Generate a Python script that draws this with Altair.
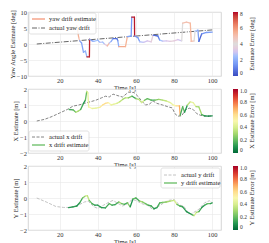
import altair as alt
import pandas as pd

FONT = "Liberation Serif"
W, H = 193, 64
XDOM = [3.4, 104.6]
XTICKS = [20, 40, 60, 80, 100]

# ---------------- yaw panel data ----------------
yaw_act_t = [8, 100]
yaw_act_v = [0.0, 4.4]

yaw_est_t = [29.0, 30.0, 30.5, 31.5, 32.5, 33.5, 34.3, 35.6, 35.7, 37.0, 38.0, 40.0, 41.0, 42.5, 43.5,
             45.0, 46.0, 47.0, 48.0, 50.0, 50.5, 51.0, 54.5, 55.5, 57.5, 57.8, 59.2, 59.3, 61.0, 62.0,
             64.0, 66.0, 68.0, 69.0, 71.5, 72.5, 74.0, 76.0, 78.0, 80.0, 82.0, 84.0, 84.5, 86.5, 88.5,
             89.0, 90.5, 91.0, 92.5, 93.0, 94.5, 97.0, 100.0]
yaw_est_v = [5.8, 2.0, 1.0, 0.3, -2.6, -2.2, -4.0, -4.0, 1.5, 1.0, 0.8, 1.2, 0.5, 0.6, 0.0,
             -0.6, 0.3, 0.8, 1.7, 1.7, 1.0, -0.8, -0.8, 2.3, 2.5, 8.4, 8.4, 2.5, 2.0, 0.7,
             0.5, 1.0, 0.7, 2.8, 2.5, 1.2, 0.9, 1.0, 0.8, 1.0, 1.4, 1.0, 6.5, 6.8, 6.5,
             0.8, 1.0, 4.0, 4.3, 0.8, 3.2, 3.6, 3.7]
yaw_est_e = [5.5, 5.0, 1.8, 1.8, 2.0, 2.2, 7.8, 7.8, 1.8, 1.8, 2.6, 2.2, 2.8, 2.6, 3.4,
             5.2, 2.8, 2.0, 0.6, 0.8, 2.0, 5.6, 5.4, 1.8, 1.5, 7.9, 7.9, 1.4, 1.6, 2.8,
             3.0, 3.2, 3.6, 0.6, 1.0, 2.6, 3.0, 3.2, 3.6, 3.4, 3.0, 4.0, 5.0, 5.0, 5.3,
             5.0, 4.0, 2.6, 1.6, 0.5, 1.4, 1.6, 1.5]

# ---------------- x panel data ----------------
x_act_t = [8, 12, 16, 20, 24, 27, 30, 33, 36, 39, 42, 44, 46, 48, 50, 53, 56, 59, 61, 63, 65, 67, 69,
           71, 74, 77, 79, 80.5, 82, 84, 86, 88, 90, 92, 94, 97, 100]
x_act_v = [0.0, 0.1, 0.28, 0.5, 0.72, 0.93, 1.0, 1.1, 1.2, 1.3, 1.45, 1.55, 1.5, 1.68, 1.6, 1.5, 1.8,
           1.78, 1.55, 1.25, 1.0, 1.05, 1.25, 1.1, 1.0, 0.88, 0.82, 0.45, 0.3, 0.33, 0.7, 0.8, 0.72,
           0.45, 0.35, 0.3, 0.32]

x_est_t = [25, 27, 28.5, 29.5, 31, 32.5, 33.5, 34.2, 34.8, 35.2, 37, 39, 41, 42.5, 44, 45.5, 47, 48.5,
           50, 51.5, 53, 54.5, 56, 58, 60, 61.5, 63, 64.5, 66, 68, 70, 72, 74, 76, 78, 79.5, 81, 82.8,
           83.2, 84.5, 85.5, 87, 88.5, 90, 91.5, 93, 94.5, 96, 98, 100]
x_est_v = [0.72, 0.7, 0.55, 0.6, 0.72, 1.1, 1.3, 1.85, 1.75, 0.88, 0.78, 0.8, 0.85, 1.0, 1.1, 1.15,
           1.0, 1.05, 1.1, 1.2, 1.35, 1.45, 1.45, 1.55, 1.4, 1.35, 1.15, 1.3, 1.4, 1.3, 1.3, 1.35, 1.3,
           1.25, 1.15, 1.0, 0.95, 0.95, 0.35, 0.9, 0.55, 1.0, 1.2, 1.15, 0.9, 0.88, 0.4, 0.32, 0.3, 0.32]
x_est_e = [0.15, 0.2, 0.35, 0.3, 0.15, 0.1, 0.2, 0.4, 0.45, 0.5, 0.45, 0.45, 0.55, 0.6, 0.6, 0.5, 0.45,
           0.45, 0.4, 0.35, 0.3, 0.35, 0.25, 0.15, 0.3, 0.35, 0.4, 0.2, 0.2, 0.15, 0.25, 0.3, 0.35, 0.4,
           0.45, 0.5, 0.6, 0.7, 0.15, 0.2, 0.1, 0.35, 0.45, 0.45, 0.3, 0.3, 0.15, 0.08, 0.08, 0.1]

# ---------------- y panel data ----------------
y_act_t = [8, 13, 18, 22, 25, 29, 33, 35, 38, 40, 43, 46, 48, 50, 53, 55, 58, 60, 63, 66, 69, 71, 74,
           77, 80, 83, 85, 87, 89, 91, 93, 96, 98.5, 100]
y_act_v = [0.0, -0.25, -0.53, -0.59, -0.59, -0.5, -0.25, -0.2, -0.55, -0.65, -0.45, -0.25, -0.15, -0.3,
           -0.5, -0.4, -0.1, -0.15, -0.35, -0.45, -0.73, -0.6, -0.35, -0.15, -0.1, -0.45, -0.5, -0.85,
           -1.0, -0.85, -0.7, -0.3, -0.17, -0.3]

y_est_t = [24.7, 27, 29, 30.5, 32, 33.5, 34.5, 35.5, 37, 38.5, 40, 42, 44, 46, 47.5, 49, 51, 52.5, 54,
           55.5, 57, 58.5, 60, 62, 63.5, 65, 66.5, 68, 69.5, 71, 72.5, 74, 76, 78, 80, 81.5, 83, 84.5,
           86.5, 88, 89.5, 90.5, 91.7, 93, 94.5, 96, 97.5, 99, 100]
y_est_v = [-0.6, -0.55, -0.5, -0.3, 0.0, 0.12, 0.15, -0.15, -0.35, -0.45, -0.45, -0.6, -0.62, -0.35,
           -0.45, -0.42, -0.25, -0.35, -0.4, -0.3, -0.55, -0.05, 0.0, -0.2, -0.25, -0.35, -0.45, -0.5,
           -0.67, -0.6, -0.3, -0.28, -0.25, -0.2, -0.15, -0.4, -0.5, -0.55, -0.85, -0.95, -1.05, -1.1,
           -0.9, -0.85, -0.6, -0.45, -0.35, -0.35, -0.3]
y_est_e = [0.1, 0.12, 0.1, 0.15, 0.25, 0.4, 0.35, 0.2, 0.15, 0.1, 0.12, 0.1, 0.15, 0.2, 0.12, 0.15, 0.3,
           0.2, 0.15, 0.25, 0.1, 0.2, 0.15, 0.3, 0.25, 0.2, 0.15, 0.15, 0.1, 0.15, 0.2, 0.25, 0.3, 0.35,
           0.4, 0.2, 0.15, 0.12, 0.08, 0.1, 0.2, 0.4, 0.3, 0.15, 0.1, 0.15, 0.2, 0.12, 0.1]

COOLWARM = ["#3b4cc0", "#6f92f3", "#aac7fd", "#dddcdc", "#f7b89c", "#e7745b", "#b40426"]
COOL_DOM = [0, 8 / 6, 16 / 6, 4, 32 / 6, 40 / 6, 8]


def segs(t, v, e):
    df = pd.DataFrame({"t": t, "v": v, "e": e})
    df["t2"] = df["t"].shift(-1)
    df["v2"] = df["v"].shift(-1)
    return df.dropna()


def one(label):
    return pd.DataFrame({"label": [label]})


def panel(act_t, act_v, est, ydom, yticks, ytitle, cscale, cvalues, clabel_expr, act_color, act_dash,
          legend_rows, box, est_color, cbar_title):
    xax = alt.Axis(values=XTICKS, title="Time [s]", labelOverlap=False)
    yax = alt.Axis(values=yticks, title=ytitle, labelOverlap=False, format="d")
    xsc = alt.Scale(domain=XDOM, nice=False, zero=False)
    ysc = alt.Scale(domain=ydom, nice=False, zero=False)
    act = alt.Chart(pd.DataFrame({"t": act_t, "v": act_v})).mark_line(
        color=act_color, strokeWidth=0.9, strokeDash=act_dash).encode(
        x=alt.X("t:Q", scale=xsc, axis=xax), y=alt.Y("v:Q", scale=ysc, axis=yax))
    estm = alt.Chart(est).mark_rule(strokeWidth=1.3, strokeCap="round").encode(
        x=alt.X("t:Q", scale=xsc, axis=xax), x2="t2:Q",
        y=alt.Y("v:Q", scale=ysc, axis=yax), y2="v2:Q",
        color=alt.Color("e:Q", scale=cscale, legend=alt.Legend(
            orient="none", legendX=W + 12, legendY=0, direction="vertical",
            gradientLength=H, gradientThickness=5, title=None, values=cvalues,
            labelExpr=clabel_expr, labelFontSize=5.5, labelFont=FONT, labelOffset=2,
            labelOverlap=False, gradientStrokeWidth=0, labelColor="#333333")))
    x1, x2, y1, y2 = box
    boxm = alt.Chart(one("box")).mark_rect(fill="white", fillOpacity=0.85, stroke="#cccccc",
                                           strokeWidth=0.6, cornerRadius=2).encode(
        x=alt.value(x1), x2=alt.value(x2), y=alt.value(y1), y2=alt.value(y2))
    layers = [act, estm, boxm]
    for (label, ypos, kind) in legend_rows:
        if kind == "act":
            sw = alt.Chart(one(label)).mark_rule(color=act_color, strokeWidth=0.9,
                                                 strokeDash=act_dash).encode(
                x=alt.value(x1 + 3), x2=alt.value(x1 + 16), y=alt.value(ypos))
        else:
            sw = alt.Chart(one(label)).mark_rule(color=est_color, strokeWidth=1.3).encode(
                x=alt.value(x1 + 3), x2=alt.value(x1 + 16), y=alt.value(ypos))
        tx = alt.Chart(one(label)).mark_text(align="left", baseline="middle", fontSize=6.5,
                                             font=FONT, color="#222222").encode(
            x=alt.value(x1 + 20), y=alt.value(ypos), text="label:N")
        layers += [sw, tx]
    ct = alt.Chart(one(cbar_title)).mark_text(angle=270, align="center", baseline="middle",
                                              fontSize=6.5, font=FONT, color="#222222").encode(
        x=alt.value(W + 31), y=alt.value(H / 2), text="label:N")
    layers.append(ct)
    return alt.layer(*layers).properties(width=W, height=H)


yaw_scale = alt.Scale(domain=COOL_DOM, range=COOLWARM, clamp=True)
err_scale_x = alt.Scale(domain=[0, 1], scheme="redyellowgreen", reverse=True)
err_scale_y = alt.Scale(domain=[0, 1], scheme="redyellowgreen", reverse=True)
frac_expr = "datum.value == 0 ? '0' : format(datum.value, '.1f')"

p1 = panel(yaw_act_t, yaw_act_v, segs(yaw_est_t, yaw_est_v, yaw_est_e), [-10, 10], [-10, -5, 0, 5, 10],
           "Yaw Angle Estimate [deg]", yaw_scale, [0, 2, 4, 6, 8], "format(datum.value, 'd')",
           "#555555", [5, 1.5, 1, 1.5],
           [("yaw drift estimate", 7, "est"), ("actual yaw drift", 16, "act")],
           (1, 68, 1, 22), "#f4987a", "Estimate Error [deg]")
p2 = panel(x_act_t, x_act_v, segs(x_est_t, x_est_v, x_est_e), [-2, 2], [-2, -1, 0, 1, 2],
           "X Estimate [m]", err_scale_x, [0, 0.2, 0.4, 0.6, 0.8, 1.0], frac_expr,
           "#777777", [3, 1.5],
           [("actual x drift", 48, "act"), ("x drift estimate", 56, "est")],
           (1, 61, 42, 62), "#66bd63", "X Estimate Error [m]")
p3 = panel(y_act_t, y_act_v, segs(y_est_t, y_est_v, y_est_e), [-2, 2], [-2, -1, 0, 1, 2],
           "Y Estimate [m]", err_scale_y, [0, 0.2, 0.4, 0.6, 0.8, 1.0], frac_expr,
           "#bbbbbb", [3, 1.5],
           [("actual y drift", 9, "act"), ("y drift estimate", 17, "est")],
           (133, 192, 2, 22), "#66bd63", "Y Estimate Error [m]")

chart = alt.vconcat(p1, p2, p3, spacing=13, bounds="flush").resolve_scale(
    color="independent", y="independent").properties(
    padding={"left": 0, "top": 0, "right": 0, "bottom": 0}, background="white").configure_axis(
    labelFont=FONT, titleFont=FONT, labelFontSize=6.5, titleFontSize=6.5, titleFontWeight="normal",
    labelColor="#333333", titleColor="#222222", grid=True, gridColor="#e8e8e8", gridWidth=0.6,
    domain=False, ticks=False, labelPadding=1.5, titlePadding=1, labelOverlap=False,
    labelFlush=False).configure_axisX(titlePadding=0).configure_view(stroke="#cccccc", strokeWidth=0.8)

chart.save("out.html", embed_options={"renderer": "svg", "actions": False})
